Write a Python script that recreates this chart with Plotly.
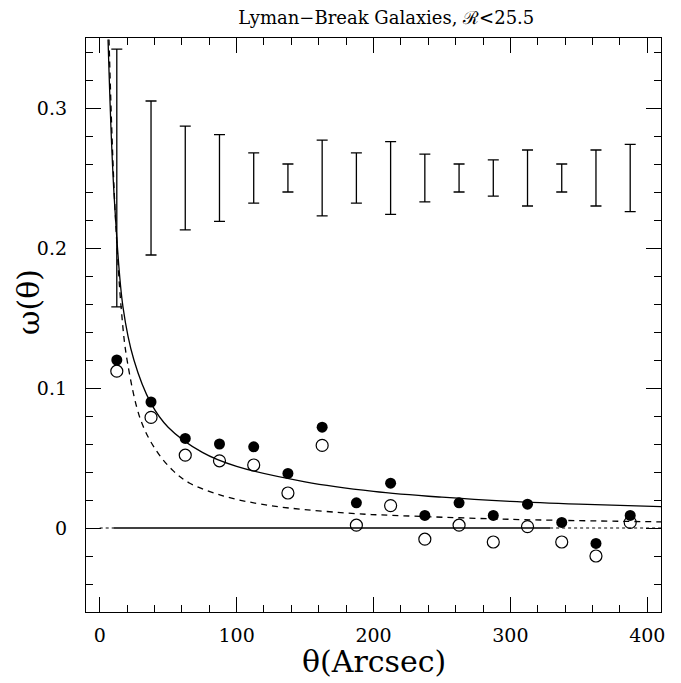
import plotly.graph_objects as go

# angular bins (arcsec)
theta = [12.5, 37.5, 62.5, 87.5, 112.5, 137.5, 162.5, 187.5,
         212.5, 237.5, 262.5, 287.5, 312.5, 337.5, 362.5, 387.5]

# filled and open circle estimates of w(theta)
w_filled = [0.120, 0.090, 0.064, 0.060, 0.058, 0.039, 0.072, 0.018,
            0.032, 0.009, 0.018, 0.009, 0.017, 0.004, -0.011, 0.009]
w_open = [0.112, 0.079, 0.052, 0.048, 0.045, 0.025, 0.059, 0.002,
          0.016, -0.008, 0.002, -0.010, 0.001, -0.010, -0.020, 0.004]

# error bar sizes, drawn separately around 0.25
err_center = [0.25] * len(theta)
err_half = [0.092, 0.055, 0.037, 0.031, 0.018, 0.010, 0.027, 0.018,
            0.026, 0.017, 0.010, 0.013, 0.020, 0.010, 0.020, 0.024]

# fitted curves
fit_x = [6.1, 8.6, 11, 17, 25, 37.5, 50, 75, 100, 150, 200, 250, 300, 350, 410]
fit_y = [0.349, 0.277, 0.230, 0.158, 0.120, 0.089, 0.072, 0.054, 0.044,
         0.033, 0.0262, 0.022, 0.019, 0.017, 0.0153]
dash_x = [6.8, 9.0, 11.5, 15.8, 20, 30, 41.5, 53.6, 65.8, 90, 115, 139, 188,
          212, 300, 410]
dash_y = [0.349, 0.280, 0.222, 0.156, 0.120, 0.077, 0.055, 0.041, 0.032,
          0.023, 0.0175, 0.0142, 0.0102, 0.0091, 0.0062, 0.0044]

# zero line pieces
zero_dot_l = [0, 10]
zero_solid = [10, 329]
zero_dot_r = [329, 410]

FONT = "DejaVu Serif"

fig = go.Figure()

fig.add_trace(go.Scatter(x=zero_dot_l, y=[0, 0], mode='lines',
                         line=dict(color='black', width=1, dash='dot')))
fig.add_trace(go.Scatter(x=zero_solid, y=[0, 0], mode='lines',
                         line=dict(color='black', width=1.3)))
fig.add_trace(go.Scatter(x=zero_dot_r, y=[0, 0], mode='lines',
                         line=dict(color='black', width=1, dash='dot')))

fig.add_trace(go.Scatter(x=fit_x, y=fit_y, mode='lines', line_shape='spline',
                         line=dict(color='black', width=1.3)))
fig.add_trace(go.Scatter(x=dash_x, y=dash_y, mode='lines', line_shape='spline',
                         line=dict(color='black', width=1.3, dash='6px,5px')))

fig.add_trace(go.Scatter(
    x=theta, y=err_center, mode='markers',
    marker=dict(size=1, color='rgba(0,0,0,0)'),
    error_y=dict(type='data', array=err_half, visible=True,
                 color='black', thickness=1.3, width=5.5)))

fig.add_trace(go.Scatter(x=theta, y=w_filled, mode='markers',
                         marker=dict(symbol='circle', size=11, color='black')))
fig.add_trace(go.Scatter(x=theta, y=w_open, mode='markers',
                         marker=dict(symbol='circle-open', size=12, color='black',
                                     line=dict(width=1.2))))

axis_common = dict(
    showgrid=False, zeroline=False, showline=True, linecolor='black',
    linewidth=1.3, mirror='allticks', ticks='inside', tickcolor='black',
    tickwidth=1.2, ticklen=15, automargin=False,
    tickfont=dict(family=FONT, size=19, color='black'),
)

# the page body adds an 8px offset, so the figure is sized to fit the window
fig.update_layout(
    width=673, height=675,
    margin=dict(l=78, r=20, t=30, b=71),
    paper_bgcolor='white', plot_bgcolor='white',
    showlegend=False,
    title=dict(text="Lyman\u2212Break Galaxies, \u211b<25.5", x=0.562,
               xanchor='center', y=0.9956, yanchor='top',
               pad=dict(t=0, b=0, l=0, r=0),
               font=dict(family=FONT, size=18, color='black')),
    xaxis=dict(axis_common, range=[-10, 410], dtick=100, tick0=0,
               ticklabelstandoff=6,
               minor=dict(dtick=20, ticks='inside', ticklen=7,
                          tickcolor='black', tickwidth=1.1)),
    yaxis=dict(axis_common, range=[-0.06, 0.35], dtick=0.1, tick0=0,
               tickformat='.1~f', ticklabelstandoff=14,
               minor=dict(dtick=0.02, ticks='inside', ticklen=7,
                          tickcolor='black', tickwidth=1.1)),
    annotations=[
        dict(text="\u03b8(Arcsec)", xref='paper', yref='paper',
             x=0.501, y=-0.087, xanchor='center', yanchor='middle',
             showarrow=False, font=dict(family=FONT, size=30, color='black')),
        dict(text="\u03c9(\u03b8)", xref='paper', yref='paper',
             x=-0.101, y=0.54, xanchor='center', yanchor='middle',
             textangle=-90, showarrow=False,
             font=dict(family=FONT, size=30, color='black')),
    ],
)

fig.write_html("out.html")
